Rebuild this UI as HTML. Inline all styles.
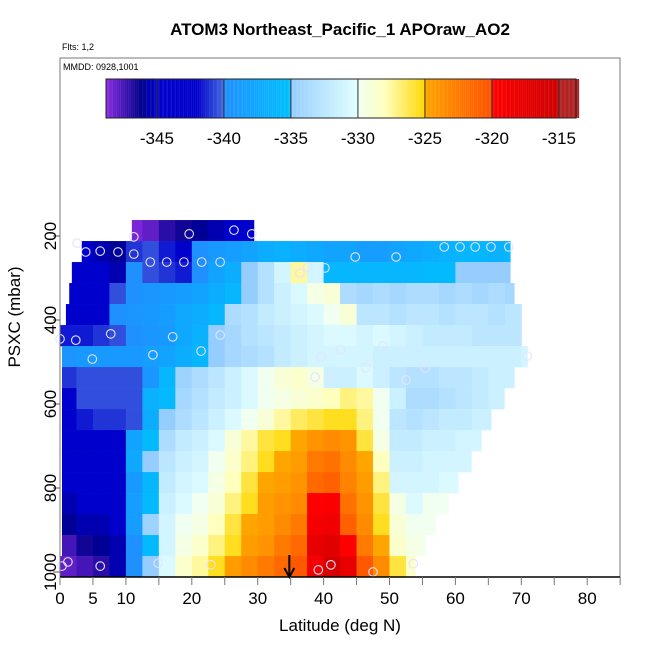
<!DOCTYPE html>
<html><head><meta charset="utf-8"><style>
html,body{margin:0;padding:0;background:#fff;}
svg{display:block;font-family:"Liberation Sans",sans-serif;}
</style></head><body>
<svg id="c" width="650" height="650" viewBox="0 0 650 650" xmlns="http://www.w3.org/2000/svg">
<g id="cells"></g>
<g id="pts"></g>
<g id="axes"></g>
<g id="cbar"></g>
</svg>
<script>
// ---- data ----
const rowPressures = [187,237,287,337,387,437,487,537,587,637,687,737,787,837,887,937,987];
const rowStartLat = [10.9,3.3,1.8,1.4,0.9,0,0.3,0.3,0.3,0.3,0.3,0.3,0.3,0.3,0.3,0.3,0];
const rowEndLat = [29.4,68.3,68.3,68.9,70,70,70.9,68.9,67.4,65.4,63.9,62.4,60.4,58.9,57,55.4,53.9];
const binWidth = 2.5;
const row0 = [-348.5,-348,-347,-346.5,-346,-345.5,-345,-344];
const row1 = [-345,-345.5,-346,-341,-340.5,-341.5,-343,-340,-339,-338.5,-338,-337,-336.5,-337,-337.5,-338,-338,-338.5,-338.5,-338,-337.5,-337,-336.5,-336,-336,-336.5,-336];
const row2 = [-344,-344.5,-345,-345.5,-340,-340.5,-341,-341.5,-340,-338,-337,-335,-333,-331,-327.5,-331,-336,-336,-336,-336,-336,-336,-335.5,-335.5,-335,-335,-335,-335];
const row3 = [-343,-343,-344,-340.5,-340,-339.5,-339,-338.5,-338,-337,-336,-335,-333,-331.5,-330.5,-329.5,-329,-333.5,-334,-333.5,-334,-333.5,-333.5,-334,-333.5,-334,-333.5,-334];
const row4 = [-342,-342,-342,-340,-339.5,-339,-338.5,-337.5,-337,-336,-333.5,-333,-332,-331.5,-331,-330.5,-330,-329,-332.5,-332.5,-333,-332.5,-332.5,-333,-332.5,-332.5,-333,-332.5];
const row5 = [-341.5,-341.5,-341,-340.5,-340,-339.5,-339,-337.5,-336.5,-335,-334,-333,-332.5,-332,-331.5,-331,-330.5,-330.5,-331,-330.5,-331,-331.5,-332,-332,-332,-332.5,-332.5,-332.5];
const row6 = [-339.5,-339,-339,-339,-339,-338.5,-338,-337,-336,-335,-334,-333.5,-333,-332,-331.5,-331,-331,-331,-331,-331.5,-331.5,-331.5,-331.5,-331.5,-331.5,-331.5,-331.5,-331.5,-331];
const row7 = [-341,-340.5,-340.5,-340.5,-340.5,-339.5,-336,-334.5,-333.5,-332.5,-331.5,-330.5,-330,-329,-328.5,-329.5,-331.5,-331.5,-330.5,-331.5,-332.5,-333,-333,-332.5,-332.5,-332,-331.5,-331.5];
const row8 = [-342,-340.5,-340.5,-340.5,-340.5,-336.5,-335.5,-334,-333,-332,-331.5,-330.5,-330,-329.5,-329,-328.5,-328,-327,-327.5,-330,-331.5,-333.5,-333.5,-333,-332.5,-332,-331.5];
const row9 = [-343,-341.5,-341,-341,-340.5,-337,-335,-333.5,-332.5,-331.5,-330.5,-330,-329,-327.5,-326.5,-326,-325.5,-325.5,-327,-330,-332.5,-333,-332.5,-332,-332,-331.5,-331.5];
const row10 = [-343.5,-342,-342,-342.5,-338,-335.5,-333.5,-332,-331.5,-330.5,-329,-327.5,-326,-325.5,-325,-324,-323.5,-324,-326,-329.5,-332,-332,-331.5,-331.5,-331,-331];
const row11 = [-344,-343.5,-343,-343,-337.5,-335,-332.5,-331.5,-331,-330,-328.5,-327,-325.5,-325,-324.5,-322.5,-322,-323.5,-325,-328,-331.5,-331.5,-331,-331,-331];
const row12 = [-345,-344.5,-343.5,-343.5,-339,-336,-332,-331,-330.5,-329.5,-328,-326,-325,-324.5,-324,-321.5,-321,-323,-324.5,-327,-331,-331,-331,-330.5,-330.5];
const row13 = [-345.5,-345,-345,-344.5,-338.5,-335.5,-331.5,-330.5,-330,-329,-327,-325.5,-324.5,-324,-323.5,-320,-319.5,-322,-324,-326,-329.5,-330.5,-330,-330];
const row14 = [-346,-345.5,-345.5,-345,-338.5,-334.5,-331,-330,-329.5,-328,-326,-325,-324.5,-323.5,-322.5,-319,-318.5,-321,-323.5,-325.5,-329,-330,-330];
const row15 = [-347.5,-346.5,-346,-345.5,-340,-335.5,-331,-329.5,-328.5,-327,-325.5,-324.5,-324,-322.5,-321.5,-317.5,-317,-320,-322.5,-325,-328.5,-329.5,-330];
const row16 = [-348,-347.5,-347,-345.5,-340,-335,-330.5,-328.5,-327.5,-325.5,-324.5,-323.5,-322.5,-321.5,-320.5,-319,-316,-317.5,-320.5,-323.5,-326,-328.5];
const rowValues = [row0,row1,row2,row3,row4,row5,row6,row7,row8,row9,row10,row11,row12,row13,row14,row15,row16];
const pointLat = [11.2,19.6,26.4,29.1,2.6,3.9,6.1,8.8,11.2,13.7,16.2,18.8,21.5,24.3,44.8,51.0,58.3,60.7,63.0,65.4,68.1,36.4,37.6,40.2,0,2.4,7.7,17.1,24.3,4.9,14.1,21.4,39.6,42.6,49,70.9,38.7,40.7,46.4,52.5,55.4,1.2,0.3,6.1,14.9,22.9,39.2,41.1,47.5,53.6];
const pointP = [202,195,186,195,217,238,236,238,243,262,262,262,262,262,250,250,226,226,226,226,226,288,274,276,445,448,433,440,436,493,483,474,488,471,462,486,536,538,514,543,514,976,986,986,979,983,995,983,1000,980];
const xTicks = [0,5,10,15,20,25,30,35,40,45,50,55,60,65,70,75,80,85];
const xLabels = [0,5,10,20,30,40,50,60,70,80];
const yLabels = [200,400,600,800,1000];
const cbTicks = [-345,-340,-335,-330,-325,-320,-315];
const arrowLat = 34.8;

// ---- scales ----
const X = lat => 60 + lat*6.59;
const Y = p => 152 + p*0.42;
const CBX = v => 106 + (v + 348.8)*13.4;
const stops = [[-348.8,[138,43,226]],[-346.2,[0,0,139]],[-345,[0,0,205]],[-342,[0,0,205]],[-340.01,[65,105,225]],[-340,[30,144,255]],[-335.01,[0,191,255]],[-335,[150,205,255]],[-330.01,[225,255,255]],[-330,[240,255,240]],[-328,[255,255,190]],[-325.01,[255,215,0]],[-325,[255,165,0]],[-320.01,[255,80,0]],[-320,[255,0,0]],[-315.01,[205,0,0]],[-315,[178,34,34]],[-313,[178,34,34]]];
function col(v){
  if(v<=stops[0][0]) return 'rgb('+stops[0][1]+')';
  for(let i=1;i<stops.length;i++){
    if(v<=stops[i][0]){const a=stops[i-1],b=stops[i];const t=(v-a[0])/(b[0]-a[0]);
      const c=a[1].map((x,k)=>Math.round(x+(b[1][k]-x)*t));return 'rgb('+c.join(',')+')';}
  }
  return 'rgb('+stops[stops.length-1][1]+')';
}
const NS='http://www.w3.org/2000/svg';
function mk(tag,attrs,parent){const e=document.createElementNS(NS,tag);for(const k in attrs)e.setAttribute(k,attrs[k]);parent.appendChild(e);return e;}

// ---- heatmap ----
const gC=document.getElementById('cells');
rowValues.forEach((vals,r)=>{
  const b0=Math.floor(rowStartLat[r]/binWidth);
  const y0=Y(rowPressures[r]-25), y1=Math.min(Y(rowPressures[r]+25),577);
  vals.forEach((v,i)=>{
    const lo=Math.max((b0+i)*binWidth,rowStartLat[r]);
    const hi=Math.min((b0+i+1)*binWidth,rowEndLat[r]);
    if(hi<=lo) return;
    const e=mk('rect',{x:X(lo),y:y0,width:X(hi)-X(lo)+0.5,height:y1-y0+0.3,fill:col(v)},gC);
    
    
  });
});
// ---- points ----
const gP=document.getElementById('pts');
pointLat.forEach((la,i)=>{
  const e=mk('circle',{cx:X(la),cy:Y(pointP[i]),r:4.3,fill:'none',stroke:'#e4e4ff','stroke-width':1.1},gP);
  
  
});
// ---- axes ----
const gA=document.getElementById('axes');
mk('rect',{x:60,y:58,width:560,height:519,fill:'none',stroke:'#777','stroke-width':1},gA);
mk('line',{x1:60,y1:577,x2:620,y2:577,stroke:'#000','stroke-width':1.5},gA);
xTicks.forEach(t=>{const e=mk('line',{x1:X(t),y1:577,x2:X(t),y2:585,stroke:'#777'},gA);
  });
xLabels.forEach(t=>{const e=mk('text',{x:X(t),y:604,'font-size':17,'text-anchor':'middle'},gA);e.textContent=t;
  });
yLabels.forEach(t=>{mk('line',{x1:53,y1:Y(t),x2:60,y2:Y(t),stroke:'#555'},gA);
  const e=mk('text',{x:0,y:0,'font-size':17,'text-anchor':'middle',transform:'translate(56,'+Y(t)+') rotate(-90)'},gA);e.textContent=t;
  });
// arrow
const ax=X(arrowLat);
const ar=mk('g',{},gA);
mk('line',{x1:ax,y1:555,x2:ax,y2:576,stroke:'#000','stroke-width':2},ar);
mk('polyline',{points:(ax-5)+',568 '+ax+',577 '+(ax+5)+',568',fill:'none',stroke:'#000','stroke-width':2},ar);
// ---- colorbar ----
const gB=document.getElementById('cbar');
for(let v=-348.8;v<-313.5;v+=0.1){mk('rect',{x:CBX(v),y:79,width:1.45,height:39,fill:col(v+0.05)},gB);}
mk('rect',{x:106,y:79,width:470,height:39,fill:'none',stroke:'#222','stroke-width':1},gB);
cbTicks.forEach(t=>{mk('line',{x1:CBX(t),y1:79,x2:CBX(t),y2:118,stroke:'#333'},gB);
  const e=mk('text',{x:CBX(t),y:144,'font-size':17,'text-anchor':'middle'},gB);e.textContent=t;
  });
</script>
<div style="position:absolute;left:0;top:0;width:650px;height:650px;pointer-events:none;font-family:'Liberation Sans',sans-serif;">
<div style="position:absolute;left:0;width:680px;top:20px;text-align:center;font-weight:bold;font-size:17px;">ATOM3 Northeast_Pacific_1 APOraw_AO2</div>
<div style="position:absolute;left:62px;top:42px;font-size:9px;">Flts: 1,2</div>
<div style="position:absolute;left:63px;top:62px;font-size:9px;">MMDD: 0928,1001</div>
<div style="position:absolute;left:0;width:680px;top:616px;text-align:center;font-size:17px;">Latitude (deg N)</div>
<div style="position:absolute;left:-45px;top:307px;width:120px;text-align:center;font-size:17px;transform:rotate(-90deg);">PSXC (mbar)</div>
</div>
</body></html>
